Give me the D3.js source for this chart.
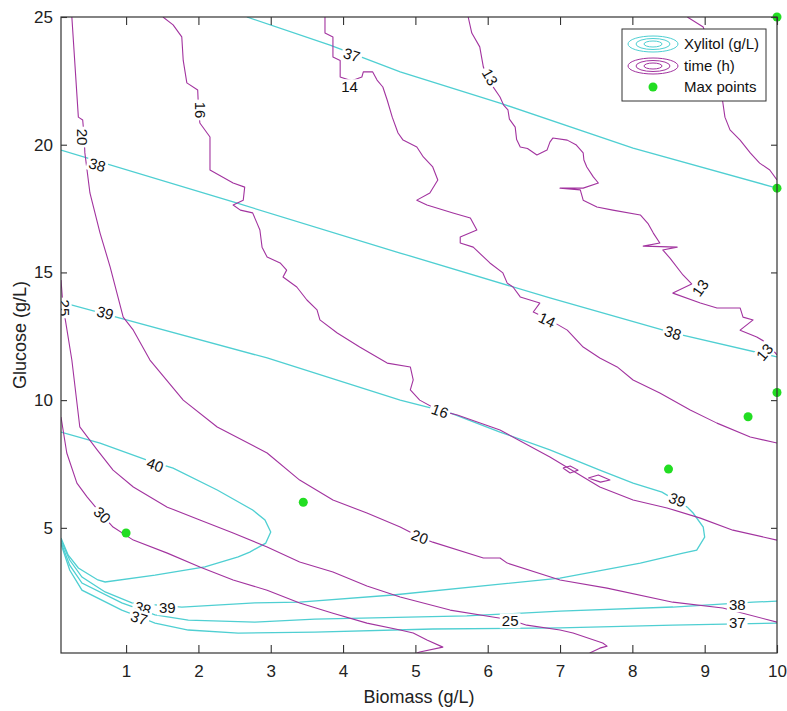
<!DOCTYPE html>
<html><head><meta charset="utf-8">
<script src="https://cdn.jsdelivr.net/npm/d3@7"></script>
<style>body{margin:0;background:#fff}text{font-family:"Liberation Sans",Arial,Helvetica,sans-serif}</style>
</head><body>
<svg id="chart" width="787" height="711"></svg>
<script>
// ---------- data ----------
const xTicks = [1,2,3,4,5,6,7,8,9,10];
const yTicks = [5,10,15,20,25];
const xDomain = [0.1, 10];
const yDomain = [0.1, 25];

// Xylitol (g/L) contour lines
const xyl37Upper = [[2.67,25.0],[3.82,23.90],[4.79,22.85],[6.17,21.63],[8.01,19.87],[10.0,18.30]];
const xyl38Upper = [[0.10,19.79],[2.48,17.76],[4.79,15.76],[6.86,14.00],[8.56,12.63],[10.0,11.69]];
const xyl39 = [[0.10,13.84],[2.95,11.65],[4.79,10.00],[5.48,9.50],[6.17,8.75],[6.86,8.05],[7.55,7.26],[8.01,6.75],[8.41,6.40],[8.76,5.81],[8.84,5.58],[8.98,5.03],[9.00,4.64],[8.89,4.13],[8.70,4.01],[8.11,3.62],[7.00,3.03],[4.69,2.37],[3.40,2.09],[2.78,2.06],[1.77,1.90],[1.08,2.06],[0.71,2.49],[0.39,3.07],[0.22,3.74],[0.10,4.52]];
const xyl40 = [[0.10,8.75],[0.64,8.32],[1.29,7.65],[1.65,7.34],[2.26,6.48],[2.75,5.70],[2.92,5.31],[3.00,4.84],[2.93,4.40],[2.71,4.05],[2.55,3.86],[2.09,3.47],[1.40,3.15],[0.71,2.88],[0.61,2.96],[0.34,3.43],[0.20,3.93],[0.10,4.60]];
const xyl38Lower = [[0.10,4.44],[0.22,3.54],[0.39,2.84],[0.94,2.06],[1.22,1.78],[1.40,1.59],[1.86,1.39],[2.78,1.31],[3.61,1.43],[5.71,1.55],[7.00,1.74],[8.56,1.90],[9.67,2.09],[10.0,2.13]];
const xyl37Lower = [[0.10,4.37],[0.22,3.35],[0.39,2.56],[0.94,1.78],[1.19,1.51],[1.40,1.27],[1.86,1.00],[2.55,0.88],[3.61,0.92],[5.24,1.04],[7.00,1.08],[8.56,1.19],[10.0,1.27]];

// time (h) contour lines
const time13a = [[5.73,25.00],[5.78,24.37],[5.89,23.83],[5.94,23.04],[6.03,22.45],[6.17,21.87],[6.22,21.55],[6.28,21.36],[6.30,21.00],[6.38,20.69],[6.40,20.20],[6.45,19.91],[6.55,19.85],[6.68,19.60],[6.82,19.79],[6.86,20.10],[6.90,20.26],[7.10,20.18],[7.22,20.00],[7.32,19.68],[7.33,19.40],[7.37,19.13],[7.46,18.74],[7.53,18.50],[7.32,18.30],[7.00,18.30],[7.28,18.23],[7.32,17.83],[7.51,17.56],[7.73,17.44],[8.11,17.25],[8.22,16.90],[8.29,16.54],[8.38,16.15],[8.15,16.03],[8.62,15.99],[8.42,15.88],[8.52,15.56],[8.70,14.90],[8.82,14.55],[8.56,14.19],[8.94,13.80],[9.17,13.61],[9.49,13.61],[9.53,13.25],[9.67,13.14],[9.49,12.74],[9.72,12.47],[9.86,12.24],[10.0,11.77]];
const time13b = [[8.76,25.0],[8.98,24.61],[9.21,22.53],[9.24,21.87],[9.28,21.08],[9.35,20.58],[9.49,20.18],[9.63,19.68],[9.76,19.28],[9.90,19.01],[10.0,18.62]];
const time14 = [[3.75,25.0],[3.75,24.37],[3.86,24.22],[3.86,23.43],[3.96,23.30],[3.96,22.65],[4.12,22.50],[4.26,22.65],[4.28,22.85],[4.41,22.85],[4.47,22.53],[4.55,22.26],[4.61,21.75],[4.68,21.08],[4.76,20.46],[4.83,20.18],[5.02,19.91],[5.11,19.52],[5.24,19.13],[5.31,18.62],[5.20,18.11],[5.02,17.83],[5.16,17.64],[5.52,17.33],[5.76,17.13],[5.85,16.66],[5.62,16.39],[5.62,16.15],[5.80,15.99],[6.03,15.37],[6.21,14.98],[6.27,14.58],[6.35,14.43],[6.45,14.04],[6.72,13.80],[6.63,13.45],[6.82,13.20],[7.10,12.74],[7.32,12.08],[7.55,11.65],[7.79,11.30],[8.01,10.79],[8.38,10.28],[8.80,9.61],[9.17,9.10],[9.63,8.56],[10.0,8.32]];
const time16 = [[1.51,25.0],[1.65,24.69],[1.77,24.22],[1.79,23.30],[1.84,22.42],[1.99,22.14],[2.00,21.50],[2.02,20.85],[2.16,20.30],[2.16,19.01],[2.48,18.50],[2.64,18.34],[2.62,17.83],[2.48,17.64],[2.58,17.44],[2.75,17.33],[2.81,16.93],[2.85,16.66],[2.88,15.99],[2.95,15.60],[3.13,15.37],[3.22,15.09],[3.17,14.82],[3.36,14.43],[3.50,13.92],[3.64,13.53],[3.68,13.14],[3.92,12.63],[4.23,12.08],[4.61,11.45],[4.93,11.30],[4.97,10.79],[4.93,10.40],[5.06,10.00],[5.31,9.61],[5.58,9.42],[6.17,8.83],[6.86,7.77],[7.55,6.60],[8.01,6.09],[8.48,5.78],[8.94,5.38],[9.39,4.91],[10.0,4.52]];
const time20 = [[0.25,25.0],[0.34,21.08],[0.40,20.97],[0.42,20.30],[0.43,19.68],[0.50,18.11],[0.64,16.54],[0.78,15.21],[0.96,13.25],[1.10,12.74],[1.33,11.57],[1.79,10.00],[2.26,8.95],[2.95,7.93],[3.40,6.87],[3.86,6.09],[4.33,5.58],[4.79,5.03],[5.06,4.64],[5.24,4.44],[5.94,3.82],[6.17,3.82],[6.27,3.62],[7.00,2.96],[7.65,2.64],[8.56,2.09],[9.25,1.86],[10.0,1.31]];
const time25 = [[0.10,14.70],[0.13,13.60],[0.16,13.14],[0.25,11.57],[0.36,8.95],[0.60,8.05],[0.82,7.26],[1.10,6.60],[1.57,5.81],[2.02,5.31],[2.48,4.80],[2.95,4.25],[3.40,3.66],[3.86,3.27],[4.33,2.72],[4.79,2.29],[5.48,1.78],[6.07,1.51],[6.31,1.40],[6.54,1.19],[7.00,1.00],[7.18,0.88],[7.59,0.49],[7.65,0.37],[7.55,0.29],[7.41,0.10]];
const time30 = [[0.10,9.34],[0.18,7.93],[0.32,6.75],[0.46,6.21],[0.67,5.50],[0.82,5.03],[1.10,4.52],[1.57,4.01],[2.02,3.47],[2.48,2.96],[2.95,2.56],[3.40,2.06],[3.86,1.66],[4.33,1.27],[4.79,1.00],[4.97,0.88],[5.16,0.61],[5.38,0.33],[5.06,0.14],[5.02,0.10]];
const timeIsland1 = [[7.04,7.34],[7.14,7.42],[7.25,7.26],[7.14,7.15],[7.04,7.34]];
const timeIsland2 = [[7.39,6.95],[7.53,7.07],[7.69,6.87],[7.56,6.79],[7.39,6.95]];

// contour labels: [text, x, y]
const xylLabels = [["37",4.12,23.51],["38",0.60,19.21],["38",8.56,12.63],["39",0.71,13.41],["39",8.62,6.09],["40",1.40,7.46],["39",1.57,1.86],["38",1.23,1.84],["37",1.18,1.47],["38",9.45,1.98],["37",9.45,1.27]];
const timeLabels = [["13",6.03,22.65],["13",8.94,14.39],["13",9.83,11.88],["14",4.09,22.26],["14",6.82,13.14],["16",2.02,21.36],["16",5.34,9.57],["20",0.39,20.30],["20",5.06,4.64],["25",0.14,13.61],["25",6.31,1.35],["30",0.67,5.50]];

// maximum points
const maxX = [1.0, 3.45, 8.5, 9.6, 10.0, 10.0, 10.0];
const maxY = [4.8, 6.0, 7.3, 9.35, 10.3, 18.3, 25.0];

const legendLabels = ["Xylitol (g/L)", "time (h)", "Max points"];
const xLabel = "Biomass (g/L)";
const yLabel = "Glucose (g/L)";

// ---------- drawing ----------
const W = 787, H = 711;
const m = {left: 61, right: 10, top: 17, bottom: 58};
const CYAN = "#4fcfd2", MAG = "#a2339f", GREEN = "#22dd22";
const svg = d3.select("#chart");
const x = d3.scaleLinear().domain(xDomain).range([m.left, W - m.right]);
const y = d3.scaleLinear().domain(yDomain).range([H - m.bottom, m.top]);

svg.append("defs").append("clipPath").attr("id","plotclip")
  .append("rect").attr("x", m.left).attr("y", m.top)
  .attr("width", W - m.left - m.right).attr("height", H - m.top - m.bottom);

const line = d3.line().x(d => x(d[0])).y(d => y(d[1]));
const plot = svg.append("g").attr("clip-path","url(#plotclip)");

const xylLines = [xyl37Upper, xyl38Upper, xyl39, xyl40, xyl38Lower, xyl37Lower];
const timeLines = [time13a, time13b, time14, time16, time20, time25, time30, timeIsland1, timeIsland2];

plot.selectAll("path.xyl").data(xylLines).join("path").attr("class","xyl")
  .attr("d", line).attr("fill","none").attr("stroke", CYAN).attr("stroke-width", 1.3);
plot.selectAll("path.time").data(timeLines).join("path").attr("class","time")
  .attr("d", line).attr("fill","none").attr("stroke", MAG).attr("stroke-width", 1.1)
  .attr("stroke-linejoin","round");

// labels
const xylAngles = [18, 16, 18, 15, 22, 20, 0, 18, 18, 0, 0];
const timeAngles = [60, -55, -50, 0, 25, 90, 20, 90, 20, 90, 0, 45];
function drawLabels(labels, angles) {
  labels.forEach((l, i) => {
    const g = plot.append("g")
      .attr("transform", `translate(${x(l[1])},${y(l[2])}) rotate(${angles[i]})`);
    const t = g.append("text").text(l[0]).attr("text-anchor","middle")
      .attr("dy","0.35em").attr("font-size", 15).attr("fill","#111");
    const bb = t.node().getBBox();
    g.insert("rect","text").attr("x", bb.x - 2).attr("y", bb.y + 1)
      .attr("width", bb.width + 4).attr("height", bb.height - 2).attr("fill","#fff");
  });
}
drawLabels(xylLabels, xylAngles);
drawLabels(timeLabels, timeAngles);

// max points
const pts = maxX.map((v, i) => [v, maxY[i]]);
svg.selectAll("circle.mx").data(pts).join("circle").attr("class","mx")
  .attr("cx", d => x(d[0])).attr("cy", d => y(d[1])).attr("r", 4.5).attr("fill", GREEN);

// axes box
const axCol = "#333";
const fontSize = 17;
const ax = svg.append("g");
ax.append("rect").attr("x", m.left).attr("y", m.top)
  .attr("width", W - m.left - m.right).attr("height", H - m.top - m.bottom)
  .attr("fill","none").attr("stroke", axCol).attr("stroke-width", 1.2);

const bottomAxis = d3.axisBottom(x).tickValues(xTicks).tickSizeInner(-8).tickSizeOuter(0).tickPadding(12).tickFormat(d3.format("d"));
const topAxis = d3.axisTop(x).tickValues(xTicks).tickSizeInner(-8).tickSizeOuter(0).tickFormat("");
const leftAxis = d3.axisLeft(y).tickValues(yTicks).tickSizeInner(-6).tickSizeOuter(0).tickPadding(8).tickFormat(d3.format("d"));
const rightAxis = d3.axisRight(y).tickValues(yTicks).tickSizeInner(-6).tickSizeOuter(0).tickFormat("");

function style(g) {
  g.select(".domain").remove();
  g.selectAll(".tick line").attr("stroke", axCol).attr("stroke-width", 1.1);
  g.selectAll(".tick text").attr("font-size", fontSize).attr("fill","#222")
    .attr("font-family", '"Liberation Sans",Arial,sans-serif');
}
ax.append("g").attr("transform", `translate(0,${H - m.bottom})`).call(bottomAxis).call(style);
ax.append("g").attr("transform", `translate(0,${m.top})`).call(topAxis).call(style);
ax.append("g").attr("transform", `translate(${m.left},0)`).call(leftAxis).call(style);
ax.append("g").attr("transform", `translate(${W - m.right},0)`).call(rightAxis).call(style);

svg.append("text").text(xLabel).attr("x", (m.left + W - m.right) / 2).attr("y", 703)
  .attr("text-anchor","middle").attr("font-size", 18).attr("fill","#222");
svg.append("text").text(yLabel)
  .attr("transform", `translate(26,${(m.top + H - m.bottom) / 2}) rotate(-90)`)
  .attr("text-anchor","middle").attr("font-size", 18).attr("fill","#222");

// legend
const lg = svg.append("g").attr("transform","translate(622,29)");
lg.append("rect").attr("width", 144).attr("height", 72).attr("fill","#fff")
  .attr("stroke", axCol).attr("stroke-width", 1);
const rows = [15, 37, 58];
[[CYAN],[MAG]].forEach((c, i) => {
  [[25,8],[17,5.5],[9,3]].forEach(r => {
    lg.append("ellipse").attr("cx", 31).attr("cy", rows[i]).attr("rx", r[0]).attr("ry", r[1])
      .attr("fill","none").attr("stroke", c[0]).attr("stroke-width", 1);
  });
});
lg.append("circle").attr("cx", 31).attr("cy", rows[2]).attr("r", 4.5).attr("fill", GREEN);
legendLabels.forEach((t, i) => {
  lg.append("text").text(t).attr("x", 62).attr("y", rows[i]).attr("dy","0.35em")
    .attr("font-size", 15).attr("fill","#111");
});
</script>
</body></html>
